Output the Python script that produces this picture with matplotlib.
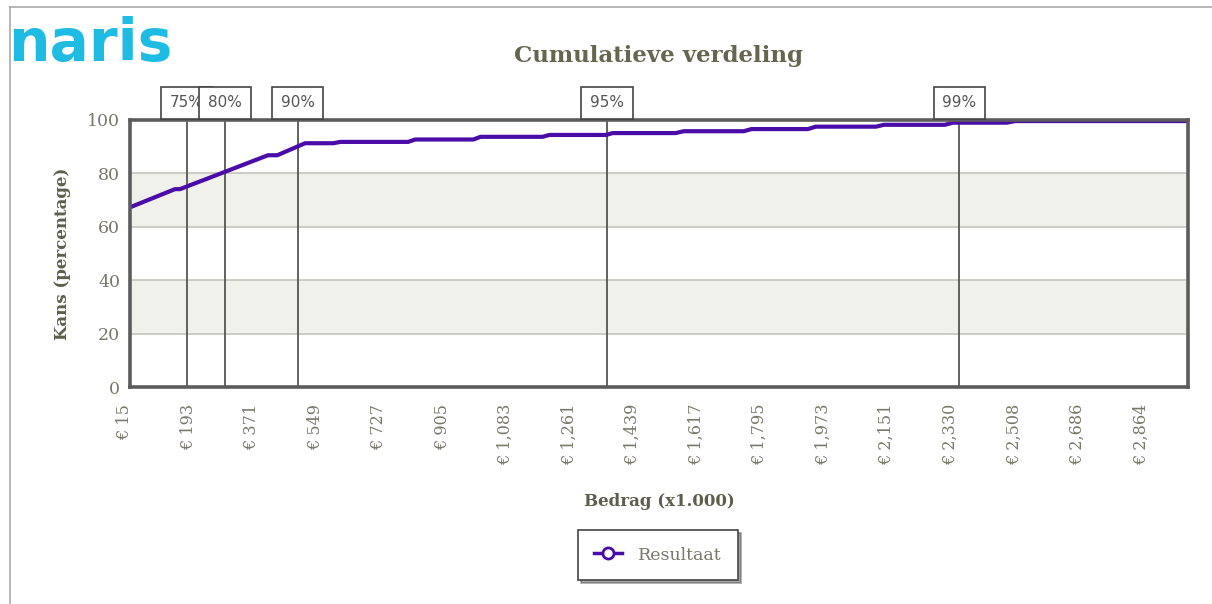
import matplotlib
matplotlib.use("Agg")
import matplotlib.pyplot as plt
import matplotlib.transforms as mtrans
from matplotlib.lines import Line2D

# ---- data (x in thousands of euro, y in %) ----
amount = [15, 141, 155, 402, 428, 506, 585, 605, 795, 815, 978, 998,
          1172, 1191, 1351, 1368, 1545, 1568, 1736, 1758, 1916, 1938,
          2107, 2129, 2300, 2323, 2474, 2497, 2982]
chance = [67.3, 74.1, 74.1, 86.8, 86.8, 91.3, 91.3, 91.8, 91.8, 92.7, 92.7, 93.7,
          93.7, 94.4, 94.4, 95.1, 95.1, 95.8, 95.8, 96.6, 96.6, 97.5,
          97.5, 98.2, 98.2, 99.0, 99.0, 99.6, 99.6]

pct_labels = ["75%", "80%", "90%", "95%", "99%"]
pct_amount = [175, 282, 485, 1353, 2341]

tick_vals = [15, 193, 371, 549, 727, 905, 1083, 1261, 1439, 1617, 1795,
             1973, 2151, 2330, 2508, 2686, 2864]
tick_text = ["€ 15", "€ 193", "€ 371", "€ 549", "€ 727", "€ 905", "€ 1,083",
             "€ 1,261", "€ 1,439", "€ 1,617", "€ 1,795", "€ 1,973", "€ 2,151",
             "€ 2,330", "€ 2,508", "€ 2,686", "€ 2,864"]

C_LINE = "#4a0ca8"
C_TXT = "#77776a"
C_LAB = "#5e5e4c"
C_BAND = "#f1f1eb"
C_GRID = "#c9c9c0"
C_FRAME = "#5c5c5c"

fig = plt.figure(figsize=(12.12, 6.04), dpi=100)
ax = fig.add_axes([130/1212, 1-387/604, 1058/1212, 267/604])

# page decorations: thin frame lines and logo
fig.add_artist(Line2D([10/1212, 1], [1-7/604, 1-7/604], color="#aaaaaa", lw=1.2))
fig.add_artist(Line2D([10/1212, 10/1212], [0, 1-7/604], color="#aaaaaa", lw=1.2))
fig.text(8/1212, 1-44/604, "naris", fontsize=42, fontweight="bold",
         color="#1ebbe3", ha="left", va="center", family="DejaVu Sans")

# alternating bands + grid
for lo, hi in [(20, 40), (60, 80)]:
    ax.axhspan(lo, hi, color=C_BAND, zorder=0, lw=0)
for y in [20, 40, 60, 80]:
    ax.axhline(y, color=C_GRID, lw=1.3, zorder=1)

ax.plot(amount, chance, color=C_LINE, lw=3, zorder=4, solid_joinstyle="round")

# percentile markers
for lab, xv in zip(pct_labels, pct_amount):
    ax.axvline(xv, color="#555555", lw=1.3, zorder=3)
for i, (lab, xv) in enumerate(zip(pct_labels, pct_amount)):
    ax.text(xv, 1.064, lab, transform=ax.get_xaxis_transform(), ha="center",
            va="center", fontsize=11, color="#555555", family="DejaVu Sans",
            zorder=10 + i, clip_on=False,
            bbox=dict(boxstyle="square,pad=0.58", fc="white", ec="#444444", lw=1.2))

ax.set_xlim(15, 2982)
ax.set_ylim(0, 100)
ax.set_xticks(tick_vals)
ax.set_xticklabels(tick_text, rotation=90, fontsize=11.5, color=C_TXT,
                   family="DejaVu Serif")
ax.set_yticks([0, 20, 40, 60, 80, 100])
ax.set_yticklabels(["0", "20", "40", "60", "80", "100"], fontsize=12.5,
                   color=C_TXT, family="DejaVu Serif")
ax.tick_params(axis="both", length=0)
ax.tick_params(axis="x", pad=12)
ax.tick_params(axis="y", pad=7)
shift = mtrans.ScaledTranslation(-5/100, 0, fig.dpi_scale_trans)
for t in ax.get_xticklabels():
    t.set_transform(t.get_transform() + shift)

for sp in ax.spines.values():
    sp.set_color(C_FRAME)
    sp.set_linewidth(2.6)
    sp.set_zorder(6)

ax.set_xlabel("Bedrag (x1.000)", fontsize=12, fontweight="bold", color=C_LAB,
              family="DejaVu Serif", labelpad=20)
ax.set_ylabel("Kans (percentage)", fontsize=12, fontweight="bold", color=C_LAB,
              family="DejaVu Serif", labelpad=12)
fig.text(658/1212, 1-56/604, "Cumulatieve verdeling", fontsize=16.5,
         fontweight="bold", color="#66664f", family="DejaVu Serif",
         ha="center", va="center")

handle = Line2D([], [], color=C_LINE, lw=2.5, marker="o", markersize=8,
                markerfacecolor="white", markeredgecolor=C_LINE, markeredgewidth=2)
leg = fig.legend([handle], ["Resultaat"], loc="center",
                 bbox_to_anchor=(658/1212, 1-555/604), frameon=True,
                 fancybox=False, shadow=True, handlelength=1.6,
                 borderpad=0.95, borderaxespad=0, handletextpad=0.9,
                 prop={"family": "DejaVu Serif", "size": 12.5})
leg.get_frame().set_edgecolor("#444444")
leg.get_frame().set_linewidth(1.2)
for t in leg.get_texts():
    t.set_color(C_TXT)

fig.savefig("out.png", dpi=100, facecolor="white")
